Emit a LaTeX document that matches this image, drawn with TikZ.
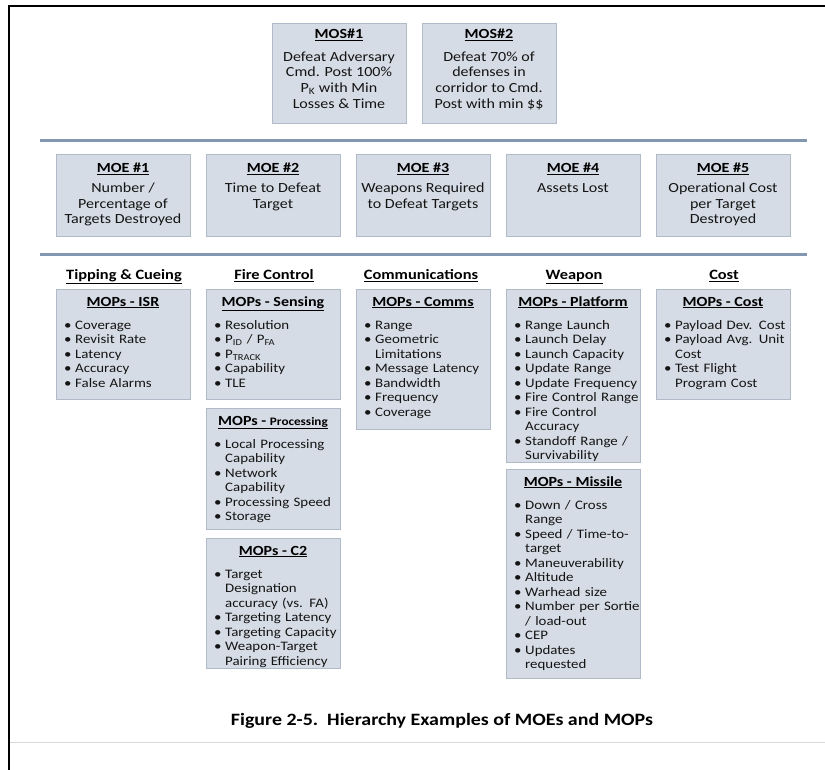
\documentclass[tikz,border=0pt]{standalone}
\usepackage{fontspec}
\setmainfont{Carlito}[FakeStretch=1.15]
\usetikzlibrary{calc}
\definecolor{boxfill}{HTML}{D6DCE5}
\definecolor{boxline}{HTML}{B1BAC8}
\definecolor{sepline}{HTML}{8497B0}
\definecolor{txt}{HTML}{141414}
\newcommand\itm[1]{\par\hangindent=11bp\hangafter=1\noindent\rule{0pt}{10bp}\hbox to 11bp{\textbullet\hfil}#1}
\tikzset{
  box/.style={draw=boxline, fill=boxfill, line width=0.8bp, inner sep=0pt, outer sep=0pt,
    anchor=north west, minimum width=134bp},
  lst/.style={anchor=north west, inner sep=0pt, text width=150bp,
    execute at begin node={\raggedright\hyphenpenalty=10000},
    execute at end node={\par},
    font=\fontsize{13}{14.55}\selectfont, text=txt},
  ttl/.style={anchor=base, inner sep=0pt, font=\fontsize{14}{16}\selectfont\bfseries, text=black},
  body/.style={anchor=north, inner sep=0pt, align=center, font=\fontsize{14}{15.7}\selectfont, text=txt},
  cat/.style={anchor=base, inner sep=0pt, font=\fontsize{14.3}{16}\selectfont\bfseries, text=black},
}
\begin{document}
\begin{tikzpicture}[x=1bp,y=-1bp]
\useasboundingbox (0,0) rectangle (825,770);
% frame
\draw[line width=2.2bp] (9,770) -- (9,6) -- (825,6);
\draw[black!15, line width=1bp] (10,742) -- (825,742);
% separators
\draw[sepline, line width=3bp] (40,140) -- (807,140);
\draw[sepline, line width=3bp] (40,254) -- (807,254);

% MOS
\node[box, minimum height=100bp] (mos1) at (272,23) {};
\node[box, minimum height=100bp] (mos2) at (422,23) {};
\node[ttl] (mos1t) at ($(mos1.north)+(0,16)$) {\underline{MOS\#1}};
\node[ttl] (mos2t) at ($(mos2.north)+(0,16)$) {\underline{MOS\#2}};
\node[body] (mos1b) at ($(mos1.north)+(0,27)$) {\rule{0pt}{11bp}Defeat Adversary\\Cmd. Post 100\%\\P\textsubscript{K} with Min\\Losses \& Time};
\node[body] (mos2b) at ($(mos2.north)+(0,27)$) {\rule{0pt}{11bp}Defeat 70\% of\\defenses in\\corridor to Cmd.\\Post with min \$\$};

% MOE
\foreach \i/\t in {1/{Number /\\Percentage of\\Targets Destroyed},
                   2/{Time to Defeat\\Target},
                   3/{Weapons Required\\to Defeat Targets},
                   4/{Assets Lost},
                   5/{Operational Cost\\per Target\\Destroyed}}{
  \node[box, minimum height=82bp] (moe\i) at ({56+150*(\i-1)},154) {};
  \node[ttl] (moe\i t) at ($(moe\i.north)+(0,18.5)$) {\underline{MOE \#\i}};
  \node[body] (moe\i b) at ($(moe\i.north)+(0,27.5)$) {\rule{0pt}{11bp}\t};
}

% categories
\node[cat] (c1) at (124,279.5) {\underline{Tipping \& Cueing}};
\node[cat] (c2) at (274,279.5) {\underline{Fire Control}};
\node[cat] (c3) at (421,279.5) {\underline{Communications}};
\node[cat] (c4) at (574,279.5) {\underline{Weapon}};
\node[cat] (c5) at (724,279.5) {\underline{Cost}};

% MOP boxes
\node[box, minimum height=110bp] (isr) at (56,289) {};
\node[box, minimum height=110bp] (sens) at (206,289) {};
\node[box, minimum height=121bp] (proc) at (206,408) {};
\node[box, minimum height=130bp] (ctwo) at (206,538) {};
\node[box, minimum height=140bp] (comm) at (356,289) {};
\node[box, minimum height=173bp] (plat) at (506,289) {};
\node[box, minimum height=209bp] (miss) at (506,469) {};
\node[box, minimum height=110bp] (cost) at (656,289) {};

% titles
\node[ttl] (isrt) at ($(isr.north)+(0,17)$) {\underline{MOPs - ISR}};
\node[ttl] (senst) at ($(sens.north)+(0,17)$) {\underline{MOPs - Sensing}};
\node[ttl] (proct) at ($(proc.north)+(0,17)$) {\underline{MOPs - {\fontsize{11.5}{12}\selectfont Processing}}};
\node[ttl] (ctwot) at ($(ctwo.north)+(0,17)$) {\underline{MOPs - C2}};
\node[ttl] (commt) at ($(comm.north)+(0,17)$) {\underline{MOPs - Comms}};
\node[ttl] (platt) at ($(plat.north)+(0,17)$) {\underline{MOPs - Platform}};
\node[ttl] (misst) at ($(miss.north)+(0,17)$) {\underline{MOPs - Missile}};
\node[ttl] (costt) at ($(cost.north)+(0,17)$) {\underline{MOPs - Cost}};

% lists
\node[lst] (isrl) at ($(isr.north west)+(8,25.7)$) {\itm{Coverage}\itm{Revisit Rate}\itm{Latency}\itm{Accuracy}\itm{False Alarms}\par};
\node[lst] (sensl) at ($(sens.north west)+(8,25.7)$) {\itm{Resolution}\itm{P\textsubscript{ID} / P\textsubscript{FA}}\itm{P\textsubscript{TRACK}}\itm{Capability}\itm{TLE}\par};
\node[lst] (procl) at ($(proc.north west)+(8,25.7)$) {\itm{Local Processing\newline Capability}\itm{Network\newline Capability}\itm{Processing Speed}\itm{Storage}\par};
\node[lst] (ctwol) at ($(ctwo.north west)+(8,25.7)$) {\itm{Target\newline Designation\newline accuracy (vs. FA)}\itm{Targeting Latency}\itm{Targeting Capacity}\itm{Weapon-Target\newline Pairing Efficiency}\par};
\node[lst] (comml) at ($(comm.north west)+(8,25.7)$) {\itm{Range}\itm{Geometric\newline Limitations}\itm{Message Latency}\itm{Bandwidth}\itm{Frequency}\itm{Coverage}\par};
\node[lst] (platl) at ($(plat.north west)+(8,25.7)$) {\itm{Range Launch}\itm{Launch Delay}\itm{Launch Capacity}\itm{Update Range}\itm{Update Frequency}\itm{Fire Control Range}\itm{Fire Control\newline Accuracy}\itm{Standoff Range /\newline Survivability}\par};
\node[lst] (missl) at ($(miss.north west)+(8,25.7)$) {\itm{Down / Cross\newline Range}\itm{Speed / Time-to-\newline target}\itm{Maneuverability}\itm{Altitude}\itm{Warhead size}\itm{Number per Sortie\newline / load-out}\itm{CEP}\itm{Updates\newline requested}\par};
\node[lst] (costl) at ($(cost.north west)+(8,25.7)$) {\itm{Payload Dev. Cost}\itm{Payload Avg. Unit\newline Cost}\itm{Test Flight\newline Program Cost}\par};

% caption
\node[anchor=base, inner sep=0pt, font=\fontsize{17.4}{20}\selectfont\bfseries] (cap) at (442,725) {Figure 2-5.\ \ Hierarchy Examples of MOEs and MOPs};
\end{tikzpicture}
\end{document}
